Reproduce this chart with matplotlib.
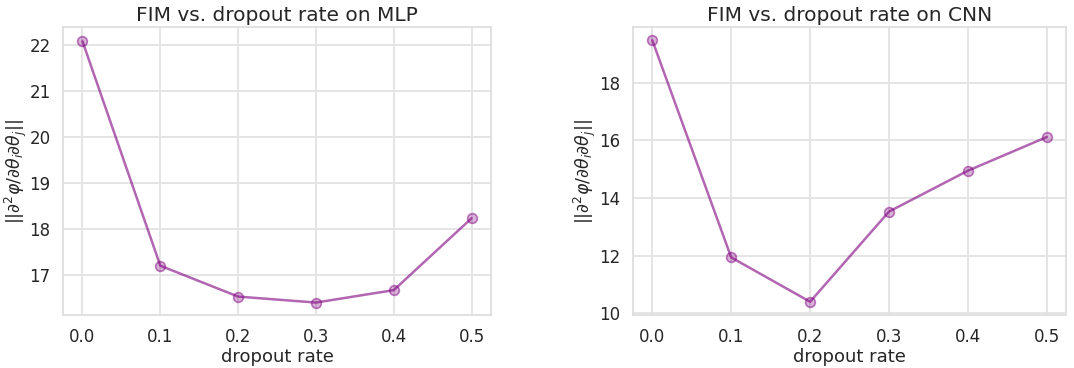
import matplotlib
matplotlib.use("Agg")
import matplotlib.pyplot as plt
import seaborn as sns

sns.set_theme(style="whitegrid")
plt.rcParams['font.family'] = ['DejaVu Sans']

dropout = [0.0, 0.1, 0.2, 0.3, 0.4, 0.5]
fim_mlp = [22.08, 17.21, 16.54, 16.41, 16.68, 18.24]
fim_cnn = [19.48, 11.94, 10.40, 13.53, 14.95, 16.12]
titles = ["FIM vs. dropout rate on MLP", "FIM vs. dropout rate on CNN"]
ylabel = r"$||\partial^2\varphi/\partial\theta_i\partial\theta_j||$"
xlabel = "dropout rate"

fig = plt.figure(figsize=(10.74, 3.68), dpi=100)
ax1 = fig.add_axes([0.0587, 0.144, 0.3985, 0.7826])
ax2 = fig.add_axes([0.589, 0.144, 0.404, 0.7826])

for ax, vals, title in [(ax1, fim_mlp, titles[0]), (ax2, fim_cnn, titles[1])]:
    ax.plot(dropout, vals, color='purple', alpha=0.6, lw=1.8, zorder=3)
    ax.plot(dropout, vals, ls='none', marker='o', markersize=7,
            markerfacecolor=(0.5, 0.0, 0.5, 0.3), markeredgecolor=(0.5, 0.0, 0.5, 0.5),
            markeredgewidth=1.2, zorder=4)
    ax.set_title(title, fontsize=14.5, pad=4)
    ax.set_xlabel(xlabel, fontsize=13, labelpad=2)
    ax.set_ylabel(ylabel, fontsize=12.5)
    ax.yaxis.set_label_coords(-0.08, 0.5)
    ax.tick_params(labelsize=12, pad=3)
    ax.set_xticks(dropout)
    ax.grid(color='#e3e3e3', lw=1.3)
    for s in ax.spines.values():
        s.set_color('#dddddd')

ax1.set_ylim(16.14, 22.39)
ax1.set_yticks([17, 18, 19, 20, 21, 22])
ax2.set_ylim(9.94, 19.94)
ax2.set_yticks([10, 12, 14, 16, 18])

fig.savefig("out.png", dpi=100)
